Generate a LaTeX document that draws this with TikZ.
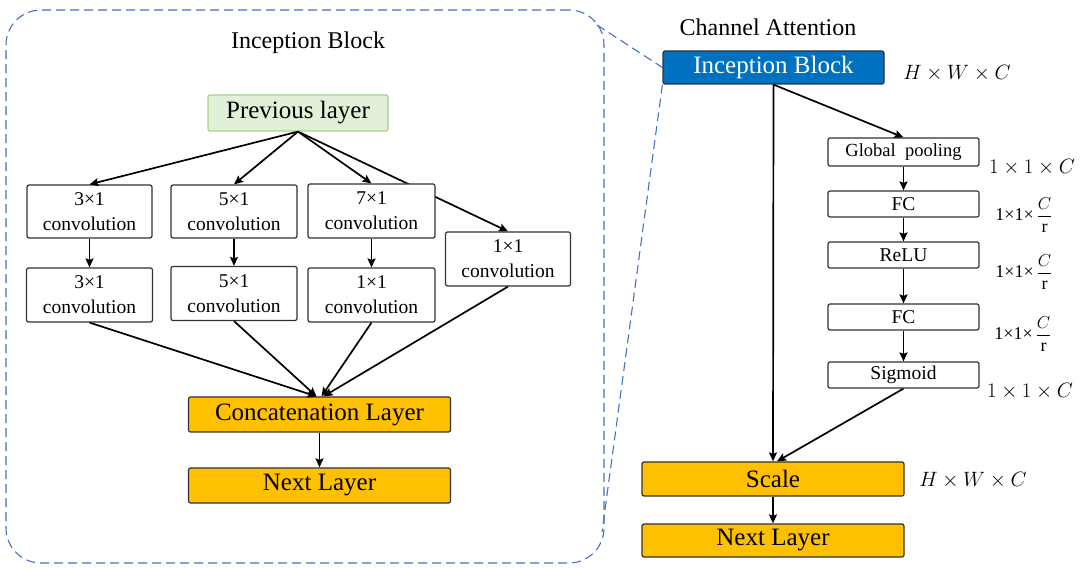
\documentclass[tikz,border=0pt]{standalone}
\usepackage{amsmath}
\usepackage{fontspec}
\setmainfont{Liberation Serif}
\usetikzlibrary{arrows.meta,calc}
\definecolor{dashblue}{RGB}{68,114,196}
\definecolor{prevfill}{RGB}{226,240,217}
\definecolor{prevborder}{RGB}{169,209,142}
\definecolor{orangefill}{RGB}{255,192,0}
\definecolor{ibblue}{RGB}{0,112,192}
\definecolor{boxborder}{RGB}{50,50,50}
\pgfdeclarelayer{bg}
\pgfsetlayers{bg,main}
\begin{document}
\begin{tikzpicture}[x=1pt,y=-1pt,
  box/.style={draw=boxborder, fill=white, line width=1.2pt, rounded corners=2pt, inner sep=0pt, align=center, font=\fontsize{19.5}{25}\selectfont},
  smallbox/.style={box, minimum width=151pt, minimum height=26pt, font=\fontsize{19.5}{22}\selectfont},
  orangebox/.style={draw=boxborder, fill=orangefill, line width=1.2pt, rounded corners=2pt, inner sep=0pt, font=\fontsize{25}{30}\selectfont},
  arr/.style={line width=1.7pt, -{Stealth[length=9pt,width=8pt,inset=1.5pt]}},
  dashline/.style={draw=dashblue, line width=1.1pt, dash pattern=on 9pt off 5pt},
  dimlabel/.style={font=\fontsize{20}{24}\selectfont, inner sep=0pt},
  fraclabel/.style={font=\fontsize{18}{22}\selectfont, inner sep=0pt},
  title/.style={font=\fontsize{24}{28}\selectfont, inner sep=0pt}
]
\useasboundingbox (0,0) rectangle (1080,569);

% container
\node[dashline, rounded corners=35pt, minimum width=598pt, minimum height=553pt, inner sep=0pt] (incbox) at (305,286.5) {};
\node[title] (t1) at (308,43) {Inception Block};

% left nodes
\node[draw=prevborder, fill=prevfill, line width=1.2pt, rounded corners=2pt, minimum width=180pt, minimum height=36pt, inner sep=0pt, font=\fontsize{25}{30}\selectfont] (prev) at (298,113) {Previous layer};
\node[box, minimum width=125pt, minimum height=53pt] (c31a) at (89.5,211.5) {3×1\\convolution};
\node[box, minimum width=126pt, minimum height=53pt] (c51a) at (234,211.5) {5×1\\convolution};
\node[box, minimum width=127pt, minimum height=54pt] (c71a) at (371.5,211) {7×1\\convolution};
\node[box, minimum width=125pt, minimum height=54pt] (c11) at (508,259) {1×1\\convolution};
\node[box, minimum width=126pt, minimum height=54pt] (c31b) at (89.5,295) {3×1\\convolution};
\node[box, minimum width=126pt, minimum height=54pt] (c51b) at (234,293.5) {5×1\\convolution};
\node[box, minimum width=127pt, minimum height=54pt] (c11b) at (371.5,295) {1×1\\convolution};
\node[orangebox, minimum width=262pt, minimum height=35pt] (concat) at (319.5,414.5) {Concatenation Layer};
\node[orangebox, minimum width=262pt, minimum height=35pt] (next1) at (319.5,485.5) {Next Layer};

% left connectors
\draw[arr] (prev.south) -- (c31a.north);
\draw[arr] (prev.south) -- (c51a.north);
\draw[arr] (prev.south) -- (c71a.north);
\begin{pgfonlayer}{bg}
\draw[arr] (prev.south) -- (c11.north);
\end{pgfonlayer}
\draw[arr] (c31a) -- (c31b);
\draw[arr] (c51a.south) -- (c51b.north);
\draw[arr] (c71a) -- (c11b);
\draw[arr] (c31b.south) -- ([xshift=-3pt]concat.north);
\draw[arr] (c51b.south) -- ([xshift=-3pt]concat.north);
\draw[arr] (c11b.south) -- ([xshift=2pt]concat.north);
\draw[arr] (c11.south) -- ([xshift=4pt]concat.north);
\draw[arr] (concat) -- (next1);

% right side
\node[title] (t2) at (768,27) {Channel Attention};
\node[draw=boxborder, fill=ibblue, text=white, line width=1.2pt, rounded corners=2pt, minimum width=221pt, minimum height=33pt, inner sep=0pt, font=\fontsize{25}{30}\selectfont] (ib) at (773.5,67.5) {Inception Block};
\node[smallbox, minimum height=28pt, font=\fontsize{18.5}{22}\selectfont] (gp) at (903.5,152) {Global\ \ pooling};
\node[smallbox] (fc1) at (903.5,204) {FC};
\node[smallbox] (relu) at (903.5,255) {ReLU};
\node[smallbox] (fc2) at (903.5,317) {FC};
\node[smallbox] (sig) at (903.5,375) {Sigmoid};
\node[orangebox, minimum width=262pt, minimum height=34pt] (scale) at (773,479) {Scale};
\node[orangebox, minimum width=262pt, minimum height=33pt] (next2) at (773,540.5) {Next Layer};

\node[dimlabel] (d1) at (957,73) {$H\times W\times C$};
\node[dimlabel] (d2) at (1032,167) {$1\times 1\times C$};
\node[fraclabel] (d3) at (1024,215) {1×1×\,$\dfrac{C}{\text{r}}$};
\node[fraclabel] (d4) at (1024,272) {1×1×\,$\dfrac{C}{\text{r}}$};
\node[fraclabel] (d5) at (1023,334) {1×1×\,$\dfrac{C}{\text{r}}$};
\node[dimlabel] (d6) at (1030,391) {$1\times 1\times C$};
\node[dimlabel] (d7) at (973,480) {$H\times W\times C$};

\draw[arr] (ib.south) -- (scale.north);
\draw[arr] (ib.south) -- (gp.north);
\draw[arr] (gp) -- (fc1);
\draw[arr] (fc1) -- (relu);
\draw[arr] (relu) -- (fc2);
\draw[arr] (fc2) -- (sig);
\draw[arr] (sig.south) -- ([xshift=4pt]scale.north);
\draw[arr] (scale) -- (next2);

% zoom lines
\coordinate (dtop) at (597,25);
\coordinate (dbot) at (602,532);
\draw[dashline] (dtop) -- (ib.west);
\draw[dashline] (ib.south west) -- (dbot);
\end{tikzpicture}
\end{document}
